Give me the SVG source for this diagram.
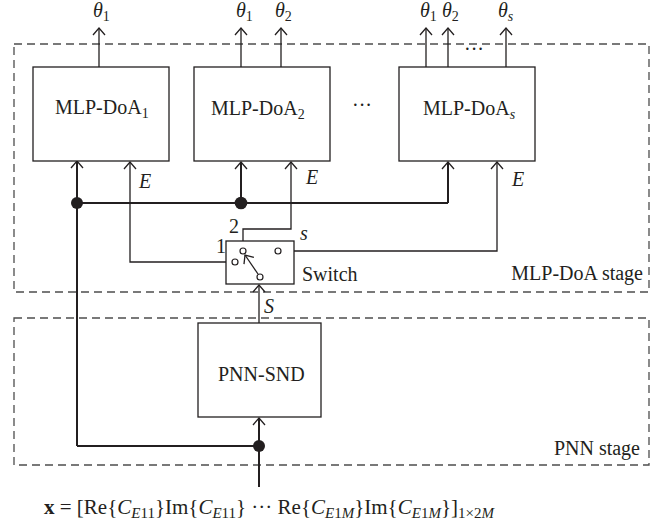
<svg xmlns="http://www.w3.org/2000/svg" width="667" height="523" viewBox="0 0 667 523">
<defs>
<style>
text{font-family:"Liberation Serif","Times New Roman",serif;font-size:20px;fill:#231f20}
.i{font-style:italic}
.sub{font-size:14px}
.f{font-size:21px}
.fs{font-size:15px}
.box{fill:#fff;stroke:#231f20;stroke-width:1.3}
.stage{fill:none;stroke:#4d4d4d;stroke-width:1.3;stroke-dasharray:8,5}
.ln{fill:none;stroke:#231f20;stroke-width:1.3}
.bus{fill:none;stroke:#231f20;stroke-width:2}
.arr{marker-end:url(#ah)}
.dot{fill:#231f20}
.ct{fill:#fff;stroke:#231f20;stroke-width:1.2}
</style>
<marker id="ah" viewBox="-8 -7 10 14" refX="0" refY="0" markerWidth="10" markerHeight="14" markerUnits="userSpaceOnUse" orient="auto">
<path d="M-7,-6 L0,0 L-7,6" fill="none" stroke="#231f20" stroke-width="1.3"/>
</marker>
</defs>

<g id="mlp-stage">
<rect class="stage" x="14" y="44" width="635" height="248"/>
<text x="643" y="280" text-anchor="end">MLP-DoA stage</text>
</g>
<g id="pnn-stage">
<rect class="stage" x="14" y="318" width="635" height="147"/>
<text x="640" y="455" text-anchor="end">PNN stage</text>
</g>

<g id="connectors">
<path class="ln arr" d="M99,67 V28"/>
<path class="ln arr" d="M241,67 V28"/>
<path class="ln arr" d="M281,67 V28"/>
<path class="ln arr" d="M426,67 V28"/>
<path class="ln arr" d="M448,67 V28"/>
<path class="ln arr" d="M506,67 V28"/>
<path class="bus arr" d="M259,487 V418"/>
<path class="bus" d="M259,446 H77"/>
<path class="bus arr" d="M77,446 V161"/>
<path class="bus" d="M77,203 H448"/>
<path class="bus arr" d="M448,203 V162"/>
<path class="bus arr" d="M241,203 V162"/>
<circle class="dot" cx="77" cy="203" r="6"/>
<circle class="dot" cx="241" cy="203" r="6.3"/>
<circle class="dot" cx="259" cy="446" r="6"/>
<path class="ln arr" d="M232,262 H130 V162"/>
<path class="ln arr" d="M243,248 V229 H291 V162"/>
<path class="ln arr" d="M281,251 H497 V162"/>
<path class="ln arr" d="M259,323 V285"/>
</g>

<g id="mlp1">
<rect class="box" x="33" y="67" width="136" height="94"/>
<text x="55" y="114">MLP-DoA<tspan class="sub" dy="4">1</tspan></text>
</g>
<g id="mlp2">
<rect class="box" x="194" y="67" width="136" height="94"/>
<text x="211" y="115">MLP-DoA<tspan class="sub" dy="4">2</tspan></text>
</g>
<g id="mlps">
<rect class="box" x="399" y="67" width="136" height="94"/>
<text x="423" y="115">MLP-DoA<tspan class="sub i" dy="4">s</tspan></text>
</g>
<g id="pnn">
<rect class="box" x="198" y="323" width="123" height="94"/>
<text x="218" y="381">PNN-SND</text>
</g>

<g id="switch">
<rect class="box" x="226" y="241" width="68" height="43"/>
<circle class="ct" cx="235" cy="262" r="3"/>
<circle class="ct" cx="243" cy="251" r="3"/>
<circle class="ct" cx="278" cy="251" r="3"/>
<circle class="ct" cx="260" cy="277" r="3"/>
<path class="ln arr" d="M258,274 L245,255"/>
<text x="302" y="281">Switch</text>
<text x="216" y="253">1</text>
<text x="229" y="233">2</text>
<text class="i" x="300" y="240">s</text>
</g>

<g id="labels">
<text class="i" x="93" y="17">θ<tspan class="sub" font-style="normal" dy="4">1</tspan></text>
<text class="i" x="236" y="17">θ<tspan class="sub" font-style="normal" dy="4">1</tspan></text>
<text class="i" x="275" y="17">θ<tspan class="sub" font-style="normal" dy="4">2</tspan></text>
<text class="i" x="420" y="17">θ<tspan class="sub" font-style="normal" dy="4">1</tspan></text>
<text class="i" x="442" y="17">θ<tspan class="sub" font-style="normal" dy="4">2</tspan></text>
<text class="i" x="498" y="17">θ<tspan class="sub" dy="4">s</tspan></text>
<text x="464" y="56">···</text>
<text x="352" y="112">···</text>
<text class="i" x="139" y="188">E</text>
<text class="i" x="306" y="184">E</text>
<text class="i" x="512" y="186">E</text>
<text class="i" x="264" y="313">S</text>
<text class="f" x="44" y="514"><tspan font-weight="bold">x</tspan> = [Re{<tspan class="i">C</tspan><tspan class="fs i" dy="4">E</tspan><tspan class="fs">11</tspan><tspan dy="-4">}Im{</tspan><tspan class="i">C</tspan><tspan class="fs i" dy="4">E</tspan><tspan class="fs">11</tspan><tspan dy="-4">} ··· Re{</tspan><tspan class="i">C</tspan><tspan class="fs i" dy="4">E</tspan><tspan class="fs">1</tspan><tspan class="fs i">M</tspan><tspan dy="-4">}Im{</tspan><tspan class="i">C</tspan><tspan class="fs i" dy="4">E</tspan><tspan class="fs">1</tspan><tspan class="fs i">M</tspan><tspan dy="-4">}]</tspan><tspan class="fs" dy="4">1×2</tspan><tspan class="fs i">M</tspan></text>
</g>
</svg>
